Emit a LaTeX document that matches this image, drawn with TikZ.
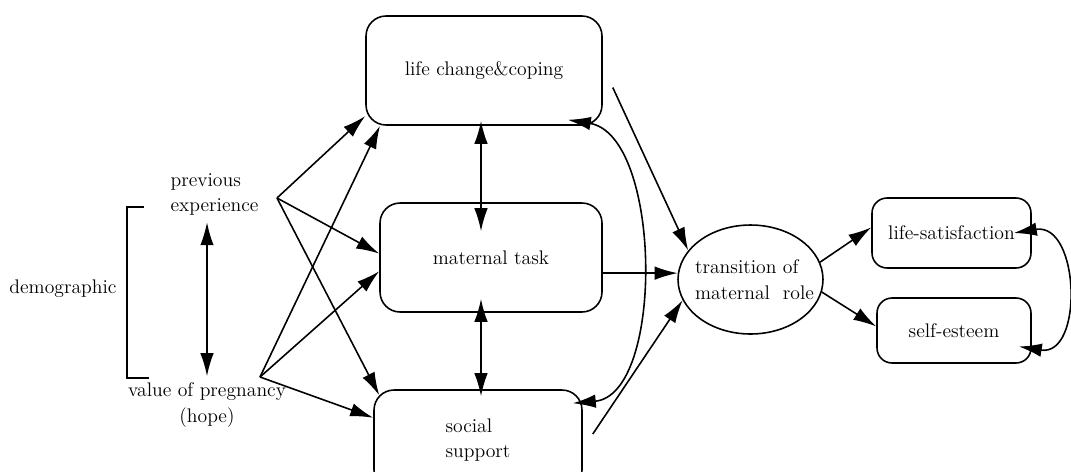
\documentclass[tikz,border=0pt]{standalone}
\usepackage{amsmath,amssymb}
\usepackage{tikz}
\usetikzlibrary{arrows.meta,shapes.geometric,calc}

\begin{document}
\begin{tikzpicture}[x=0.02cm,y=-0.02cm,line width=0.9pt,
  >={Latex[length=4.6mm,width=2.7mm]},
  every node/.style={font=\fontsize{11.2}{14.5}\selectfont},
  box/.style={draw,rounded corners=0.4cm,inner sep=0pt,align=center},
  smallbox/.style={draw,rounded corners=0.3cm,inner sep=0pt,align=center}]
 \useasboundingbox (0,0) rectangle (1071,471);
 % middle column
 \node[box,minimum width=4.72cm,minimum height=2.18cm] (lc) at (484,70.5) {life change\&coping};
 \node[box,minimum width=4.44cm,minimum height=2.18cm] (mt) at (491,257.5) {maternal task};
 \node[box,minimum width=4.16cm,minimum height=2cm,align=left] (ss) at (478,440) {social\\support};
 \node[draw,ellipse,minimum width=2.9cm,minimum height=2.18cm,inner sep=0pt] (el) at (750.5,279.5) {};
 \node[align=left] (el-txt) at ([xshift=0.08cm]el.center) {transition of\\maternal \ role};
 \node[smallbox,minimum width=3.18cm,minimum height=1.4cm] (ls) at (951.5,233) {life-satisfaction};
 \node[smallbox,minimum width=3.08cm,minimum height=1.3cm] (se) at (954,330.5) {self-esteem};
 % left side
 \node[align=left,anchor=west] (pe) at (164,194.5) {previous\\experience};
 \node[align=center] (vp) at (207,405) {value of pregnancy\\(hope)};
 \node (demo) at (63,289) {demographic};
 \draw (144,207) -- (127,207) -- (127,378) -- (149,378);
 \coordinate (pe-out) at (277,198);
 \coordinate (vp-out) at (260,377);
 \draw[<->] (pe.south -| vp.north) -- (vp.north);
 \draw[->] (pe-out) -- (lc.201);
 \draw[->] (pe-out) -- (mt.178);
 \draw[->] (pe-out) -- ([shift={(6,6)}]ss.north west);
 \draw[->] (vp-out) -- (lc.208);
 \draw[->] (vp-out) -- (mt.187);
 \draw[->] (vp-out) -- (ss.168);
 % between the boxes
 \draw[<->] ($(lc.south)+(-3,-5)$) -- ($(mt.north)+(-10,29)$);
 \draw[<->] ($(mt.south)+(-10,-14)$) -- ($(ss.north)+(3,7)$);
 \draw[<->] ($(lc.south east)+(-35,-6)$) .. controls (662,135) and (665,395) .. ($(ss.north east)+(-10,14)$);
 % into the transition
 \draw[->] ($(lc.east)+(10,17)$) -- (el.155);
 \draw[->] (mt.east |- el.175) -- (el.175);
 \draw[->] ($(ss.east)+(10,-6)$) -- (el.197);
 % outcomes
 \draw[->] (el.14) -- (ls.176);
 \draw[->] (el.350) -- (se.177);
 \draw[<->] ($(ls.east)+(-18,0)$) .. controls (1080,222) and (1084,357) .. ($(se.east)+(-13,16)$);
\end{tikzpicture}
\end{document}
